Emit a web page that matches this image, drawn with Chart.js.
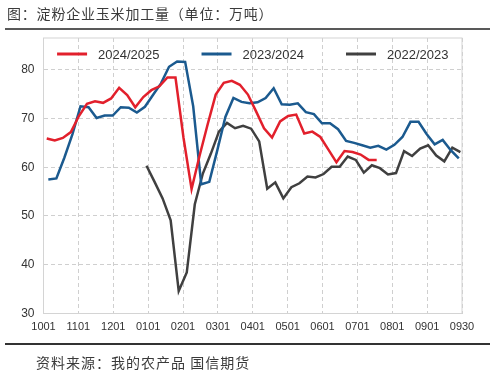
<!DOCTYPE html>
<html>
<head>
<meta charset="utf-8">
<script src="https://cdn.jsdelivr.net/npm/chart.js@4/dist/chart.umd.min.js"></script>
<style>
  body { margin: 0; background: #fff; }
  #wrap { position: relative; width: 495px; height: 373px; overflow: hidden; }
  #chart { position: absolute; left: 0; top: 0; }
  .cn { position: absolute; font-family: "Noto Sans CJK SC", sans-serif; color: #3a3a3a; font-size: 14px; line-height: 20px; white-space: nowrap; }
  #title { left: 7px; top: 3px; letter-spacing: 0.8px; }
  #source { left: 36px; top: 352px; letter-spacing: 1px; }
  .rule { position: absolute; left: 5px; width: 485px; }
</style>
</head>
<body>
<div id="wrap">
  <canvas id="chart" width="495" height="373"></canvas>
  <div class="cn" id="title">图：淀粉企业玉米加工量（单位：万吨）</div>
  <div class="rule" style="top:28px;height:2px;background:#595959"></div>
  <div class="rule" style="top:343px;height:1.5px;background:#333"></div>
  <div class="cn" id="source">资料来源：我的农产品 国信期货</div>
</div>
<script>
// axis labels (x axis runs over 52 weeks, 1001 -> 0930)
const monthLabels = ['1001', '1101', '1201', '0101', '0201', '0301', '0401', '0501', '0601', '0701', '0801', '0901', '0930'];
const yTicks = [30, 40, 50, 60, 70, 80];
const seasonNames = ['2024/2025', '2023/2024', '2022/2023'];

// first week of each series, in weeks after 1001
const start2425 = 0.4;
const start2324 = 0.6;
const start2223 = 12.8;

// weekly corn processing, 10k tonnes
const v2425 = [65.9, 65.5, 66.0, 67.2, 70.5, 73.0, 73.5, 73.2, 74.1, 76.3,
               74.8, 72.3, 74.4, 75.8, 76.6, 78.4, 78.4, 66.0, 55.5, 62.4,
               68.8, 74.9, 77.3, 77.7, 76.9, 74.9, 71.5, 68.0, 66.1, 69.4,
               70.5, 70.8, 66.9, 67.3, 66.2, 63.6, 61.0, 63.3, 63.1, 62.6,
               61.5, 61.5];
const v2324 = [57.5, 57.7, 62.0, 66.8, 72.5, 72.3, 70.1, 70.6, 70.6, 72.3,
               72.2, 71.2, 72.4, 74.8, 77.2, 80.6, 81.7, 81.6, 72.5, 56.5,
               57.0, 63.5, 70.3, 74.2, 73.4, 73.1, 73.3, 74.2, 76.2, 72.9,
               72.8, 73.1, 71.3, 70.9, 69.0, 69.0, 67.8, 65.4, 65.0, 64.5,
               64.0, 64.4, 63.6, 64.6, 66.2, 69.3, 69.3, 66.8, 64.7, 65.6,
               63.5, 61.8];
const v2223 = [60.3, 57.0, 53.6, 49.1, 34.6, 38.4, 52.4, 58.7, 62.8, 67.3,
               69.1, 68.0, 68.5, 67.9, 65.3, 55.6, 56.9, 53.6, 55.9, 56.7,
               58.1, 57.9, 58.6, 60.1, 60.1, 62.2, 61.5, 58.9, 60.4, 59.8,
               58.5, 58.8, 63.3, 62.3, 63.8, 64.5, 62.4, 61.2, 64.0, 63.1];

const colors = ['#e2202c', '#1b5a8f', '#404040'];
const numFont = '"Liberation Sans", Arial, sans-serif';

function toPoints(start, values) {
    return values.map(function (v, i) { return { x: start + i, y: v }; });
}

// plot frame + legend drawn inside the plot area
const framePlugin = {
    id: 'frameLegend',
    beforeDatasetsDraw: function (chart) {
        const a = chart.chartArea, ctx = chart.ctx;
        ctx.save();
        ctx.strokeStyle = '#d4d4d4';
        ctx.lineWidth = 1;
        ctx.strokeRect(a.left, a.top, a.right - a.left, a.bottom - a.top);
        ctx.restore();
    },
    afterDatasetsDraw: function (chart) {
        const a = chart.chartArea, ctx = chart.ctx;
        const lineLen = 30, textGap = 11, gap = 42, y = 54;
        ctx.save();
        ctx.font = '13px ' + numFont;
        const sets = chart.data.datasets;
        const widths = sets.map(function (d) { return lineLen + textGap + ctx.measureText(d.label).width; });
        const total = widths.reduce(function (s, w) { return s + w; }, 0) + gap * (sets.length - 1);
        let x = (a.left + a.right) / 2 - total / 2;
        sets.forEach(function (d, i) {
            ctx.strokeStyle = d.borderColor;
            ctx.lineWidth = 3;
            ctx.beginPath();
            ctx.moveTo(x, y);
            ctx.lineTo(x + lineLen, y);
            ctx.stroke();
            ctx.fillStyle = '#333';
            ctx.textBaseline = 'middle';
            ctx.fillText(d.label, x + lineLen + textGap, y + 1);
            x += widths[i] + gap;
        });
        ctx.restore();
    }
};

const ctx = document.getElementById('chart').getContext('2d');
new Chart(ctx, {
    type: 'line',
    data: {
        datasets: [
            { label: seasonNames[0], data: toPoints(start2425, v2425), borderColor: colors[0], backgroundColor: colors[0] },
            { label: seasonNames[1], data: toPoints(start2324, v2324), borderColor: colors[1], backgroundColor: colors[1] },
            { label: seasonNames[2], data: toPoints(start2223, v2223), borderColor: colors[2], backgroundColor: colors[2] }
        ]
    },
    options: {
        responsive: false,
        animation: false,
        elements: {
            line: { borderWidth: 2.5, tension: 0 },
            point: { radius: 0 }
        },
        layout: { padding: { left: 0, top: 38, right: 33, bottom: 0 } },
        plugins: {
            legend: { display: false },
            tooltip: { enabled: false }
        },
        scales: {
            x: {
                type: 'linear',
                min: 0,
                max: 52,
                afterBuildTicks: function (scale) {
                    scale.ticks = monthLabels.map(function (l, k) { return { value: k * 52 / 12 }; });
                },
                afterFit: function (scale) { scale.height = 59.5; },
                ticks: {
                    autoSkip: false,
                    maxRotation: 0,
                    padding: 7,
                    color: '#333',
                    font: { family: numFont, size: 11 },
                    callback: function (v, i) { return monthLabels[i]; }
                },
                grid: { color: '#cfcfcf', drawTicks: false },
                border: { display: false, dash: [4, 3] }
            },
            y: {
                min: 30,
                max: 86.5,
                afterBuildTicks: function (scale) {
                    scale.ticks = yTicks.map(function (v) { return { value: v }; });
                },
                afterFit: function (scale) { scale.width = 43.5; },
                ticks: {
                    padding: 9,
                    color: '#333',
                    font: { family: numFont, size: 12 }
                },
                grid: { color: '#cfcfcf', drawTicks: false },
                border: { display: false, dash: [4, 3] }
            }
        }
    },
    plugins: [framePlugin]
});
</script>
</body>
</html>
